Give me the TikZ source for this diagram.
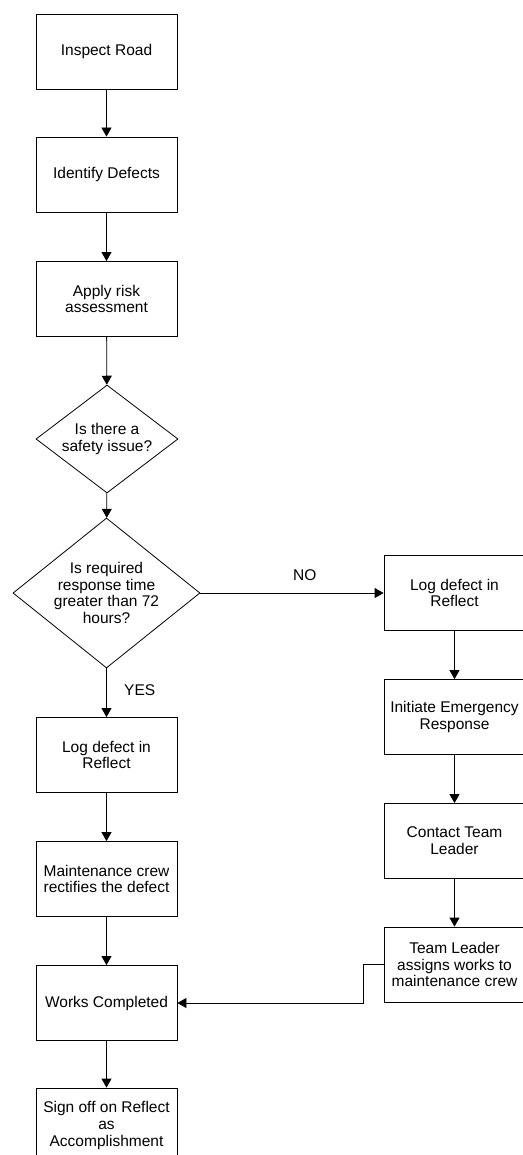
\documentclass[tikz,border=0pt]{standalone}
\usepackage{fontspec}
\setmainfont{Liberation Sans}
\usetikzlibrary{shapes.geometric,arrows.meta}
\begin{document}
\begin{tikzpicture}[x=1pt,y=-1pt,
  every node/.style={font=\fontsize{15.5}{16.8}\selectfont, align=center},
  proc/.style={draw, line width=.8pt, minimum width=141pt, minimum height=75pt, inner sep=0pt},
  decision/.style={draw, diamond, line width=.8pt, inner sep=0pt},
  flow/.style={line width=.8pt, -{Triangle[width=10pt,length=9pt]}}]
\useasboundingbox (0,0) rectangle (522,1155);
% left column
\node[proc] (inspect) at (106.5,51.5) {Inspect Road};
\node[proc] (identify) at (106.5,174.5) {Identify Defects};
\node[proc] (risk) at (106.5,299) {Apply risk\\assessment};
\node[decision, aspect=1.31, minimum width=142pt, minimum height=108pt] (safety) at (107,439) {Is there a\\safety issue?};
\node[decision, aspect=1.25, minimum width=187pt, minimum height=150pt] (response) at (106.5,593) {Is required\\response time\\greater than 72\\hours?};
\node[proc] (logleft) at (106.5,755) {Log defect in\\Reflect};
\node[proc] (crew) at (106.5,879) {Maintenance crew\\rectifies the defect};
\node[proc] (works) at (106.5,1003) {Works Completed};
\node[proc] (signoff) at (106.5,1125.5) {Sign off on Reflect\\as\\Accomplishment};
% right column
\node[proc] (logright) at (454.5,593) {Log defect in\\Reflect};
\node[proc] (emergency) at (454.5,717) {Initiate Emergency\\Response};
\node[proc] (contact) at (454.5,841) {Contact Team\\Leader};
\node[proc] (assign) at (454.5,964.5) {Team Leader\\assigns works to\\maintenance crew};
\coordinate (bend) at (363,964.5);
% connectors
\draw[flow] (inspect) -- (identify);
\draw[flow] (identify) -- (risk);
\draw[flow] (risk) -- (safety);
\draw[flow] (safety) -- (response);
\draw[flow] (response) -- node[above=9pt, pos=.57] (no) {NO} (logright);
\draw[flow] (response) -- node[right=14pt, pos=.45] (yes) {YES} (logleft);
\draw[flow] (logleft) -- (crew);
\draw[flow] (crew) -- (works);
\draw[flow] (works) -- (signoff);
\draw[flow] (logright) -- (emergency);
\draw[flow] (emergency) -- (contact);
\draw[flow] (contact) -- (assign);
\draw[flow] (assign.west) -- (bend) |- (works.east);
\end{tikzpicture}
\end{document}
